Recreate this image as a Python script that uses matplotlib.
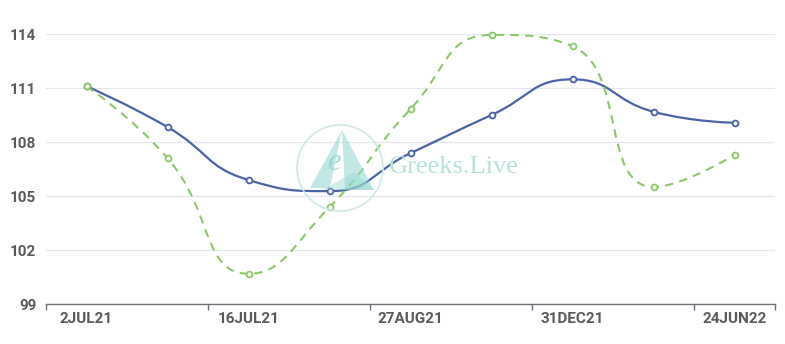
import numpy as np
import matplotlib.pyplot as plt
from matplotlib.path import Path
from matplotlib.patches import PathPatch, Circle, Polygon

# expiries on the category axis (only every other one is labelled)
expiries = ["2JUL21", "9JUL21", "16JUL21", "30JUL21", "27AUG21",
            "24SEP21", "31DEC21", "25MAR22", "24JUN22"]
series_a = [111.1, 108.83, 105.89, 105.27, 107.38, 109.5, 111.48, 109.68, 109.07]
series_b = [111.1, 107.11, 100.68, 104.38, 109.83, 113.95, 113.32, 105.5, 107.28]
y_ticks = [99, 102, 105, 108, 111, 114]

BLUE = "#4a63a6"
GREEN = "#8cc86a"


def smooth_path(xs, ys, sx, sy, smooth=0.5):
    # echarts style bezier smoothing with extreme clamping, in pixel-like units
    px = np.asarray(xs, float) * sx
    py = np.asarray(ys, float) * sy
    n = len(px)
    verts = [(px[0], py[0])]
    codes = [Path.MOVETO]
    c0x, c0y = px[0], py[0]
    for i in range(1, n):
        x, y = px[i], py[i]
        prx, pry = px[i - 1], py[i - 1]
        if i + 1 < n:
            nx, ny = px[i + 1], py[i + 1]
            vx, vy = nx - prx, ny - pry
            lp = np.hypot(x - prx, y - pry)
            ln = np.hypot(nx - x, ny - y)
            r = ln / (ln + lp)
            ncx = x + vx * smooth * r
            ncy = y + vy * smooth * r
            ncx = max(min(ncx, max(nx, x)), min(nx, x))
            ncy = max(min(ncy, max(ny, y)), min(ny, y))
            vx, vy = ncx - x, ncy - y
            c1x = x - vx * lp / ln
            c1y = y - vy * lp / ln
            c1x = max(min(c1x, max(prx, x)), min(prx, x))
            c1y = max(min(c1y, max(pry, y)), min(pry, y))
            vx, vy = x - c1x, y - c1y
            ncx = x + vx * ln / lp
            ncy = y + vy * ln / lp
        else:
            ncx, ncy = x, y
            c1x, c1y = x, y
        verts += [(c0x, c0y), (c1x, c1y), (x, y)]
        codes += [Path.CURVE4] * 3
        c0x, c0y = ncx, ncy
    verts = [(a / sx, b / sy) for a, b in verts]
    return Path(verts, codes)


fig = plt.figure(figsize=(7.85, 3.44), dpi=100)
ax = fig.add_axes([46 / 785, 1 - 304 / 344, 729 / 785, 270 / 344])

xs = np.arange(len(expiries))
ax.set_xlim(-0.5, len(expiries) - 0.5)
ax.set_ylim(99, 114)

for s, col, ls in [(series_a, BLUE, "-"), (series_b, GREEN, (0, (4, 3)))]:
    p = smooth_path(xs, s, 81, 18)
    ax.add_patch(PathPatch(p, facecolor="none", edgecolor=col, lw=1.6 if ls == "-" else 1.5,
                           linestyle=ls, zorder=3, capstyle="butt", clip_on=False))
    ax.plot(xs, s, linestyle="none", marker="o", ms=4.2, mfc="white", mec=col, mew=1.3,
            zorder=4, clip_on=False)

# grid / axes
ax.set_yticks(y_ticks)
ax.grid(axis="y", color="#e3e6ec", lw=0.9)
ax.set_axisbelow(True)
for sp in ["top", "right", "left"]:
    ax.spines[sp].set_visible(False)
ax.spines["bottom"].set_color("#6e7079")
ax.spines["bottom"].set_linewidth(1.0)

ax.set_xticks(xs[::2])
ax.set_xticklabels(expiries[::2])
ax.set_xticks(np.arange(-0.5, len(expiries), 2).tolist() + [len(expiries) - 0.5], minor=True)
ax.tick_params(axis="x", which="major", length=0, pad=6, labelsize=11, labelcolor="#5a5a5a")
ax.tick_params(axis="x", which="minor", length=4, color="#6e7079", width=1)
ax.tick_params(axis="y", length=0, pad=7, labelsize=11, labelcolor="#5a5a5a")
for lab in ax.get_xticklabels() + ax.get_yticklabels():
    lab.set_fontweight("bold")
    lab.set_fontfamily("Roboto")

# watermark
wm = "#8fd6cf"
c = Circle((340, 344 - 168), 43, transform=None, fill=False, ec="#cfe9e6", lw=1.2, zorder=1)
fig.patches.append(c)
tri1 = Polygon([(342, 130), (310, 188), (330, 188)], closed=True, fc=wm, ec="none", alpha=0.55)
tri2 = Polygon([(342, 130), (374, 190), (345, 190)], closed=True, fc=wm, ec="none", alpha=0.55)
tri3 = Polygon([(322, 190), (374, 190), (355, 172)], closed=True, fc=wm, ec="none", alpha=0.4)
for t in (tri1, tri2, tri3):
    xy = t.get_xy()
    xy[:, 1] = 344 - xy[:, 1]
    t.set_xy(xy)
    t.set_transform(None)
    fig.patches.append(t)
fig.text(334 / 785, 1 - 163 / 344, "e", fontsize=22, family="Liberation Serif", style="italic",
         color=wm, alpha=0.85, ha="center", va="center")
fig.text(389 / 785, 1 - 167 / 344, "Greeks.Live", fontsize=19, family="Liberation Serif",
         color="#b6e2dc", ha="left", va="center")

fig.savefig("out.png", dpi=100)
